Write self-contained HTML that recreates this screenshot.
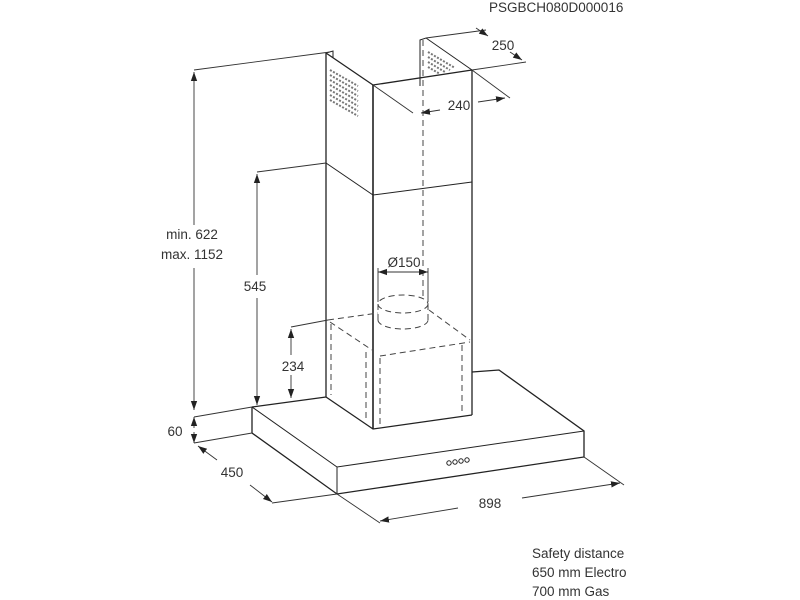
<!DOCTYPE html>
<html><head><meta charset="utf-8"><style>
html,body{margin:0;padding:0;background:#fff;}
svg{display:block;}
text{font-family:"Liberation Sans",Arial,sans-serif;fill:#333;}
</style></head><body>
<svg width="800" height="600" viewBox="0 0 800 600" xmlns="http://www.w3.org/2000/svg">
<defs>
<marker id="a" viewBox="0 0 10 10" refX="10" refY="5" markerWidth="9" markerHeight="9" orient="auto-start-reverse" markerUnits="userSpaceOnUse"><path d="M0,1.5 L10,5 L0,8.5 Z" fill="#222"/></marker>
</defs>
<text x="489" y="12" font-size="13.5">PSGBCH080D000016</text>

<g stroke="#222" stroke-width="1" fill="none">
<!-- upper chimney -->
<line x1="326" y1="53" x2="326" y2="397" stroke-width="1.3"/>
<line x1="373" y1="85" x2="373" y2="429" stroke-width="1.6"/>
<line x1="472" y1="70" x2="472" y2="415" stroke-width="1.3"/>
<polyline points="326,53 373,85 472,70" stroke-width="1.3"/>
<polyline points="326,66 326,53 333,51 333,58"/>
<polyline points="420,86 420,40 426,38 472,70"/>
<!-- vents -->
<g stroke="#777" stroke-width="2" stroke-dasharray="2,1.5">
<line x1="330" y1="70" x2="358" y2="86"/><line x1="330" y1="75" x2="358" y2="91"/><line x1="330" y1="80" x2="358" y2="96"/><line x1="330" y1="85" x2="358" y2="101"/><line x1="330" y1="90" x2="358" y2="106"/><line x1="330" y1="95" x2="358" y2="111"/><line x1="330" y1="100" x2="358" y2="116"/>
<line x1="428" y1="52" x2="455" y2="68"/><line x1="428" y1="57" x2="450" y2="70"/><line x1="428" y1="62" x2="445" y2="72"/><line x1="428" y1="67" x2="440" y2="74"/>
</g>
<!-- lower chimney top edge -->
<polyline points="326,163 373,195 472,182"/>
<!-- hood -->
<polyline points="252,407 252,433 337,494 584,457 584,431 499,370 472,372" stroke-width="1.3"/>
<polyline points="252,407 326,397" stroke-width="1.3"/>
<polyline points="252,407 337,467 584,431" />
<line x1="337" y1="467" x2="337" y2="494"/>
<polyline points="326,397 373,429 472,415" stroke-width="1.3"/>
<!-- buttons -->
<g stroke-width="1"><circle cx="449" cy="463" r="2.2"/><circle cx="455" cy="462" r="2.2"/><circle cx="461" cy="461" r="2.2"/><circle cx="467" cy="460" r="2.2"/></g>

<!-- dashed hidden -->
<g stroke="#444" stroke-dasharray="6,4">
<line x1="423" y1="40" x2="423" y2="296"/>
<ellipse cx="403" cy="304" rx="25" ry="9"/>
<path d="M378,320 A25,9 0 0 0 428,320"/>
<line x1="378" y1="304" x2="378" y2="320"/>
<line x1="428" y1="304" x2="428" y2="320"/>
<line x1="328" y1="320" x2="378" y2="313"/>
<line x1="429" y1="310" x2="470" y2="340"/>
<line x1="330" y1="322" x2="372" y2="350"/>
<line x1="380" y1="356" x2="470" y2="342"/>
<line x1="331" y1="324" x2="331" y2="395"/>
<line x1="366" y1="352" x2="366" y2="422"/>
<line x1="380" y1="358" x2="380" y2="425"/>
<line x1="462" y1="345" x2="462" y2="412"/>
</g>

<!-- dimension lines -->
<g stroke="#333" stroke-width="0.9">
<line x1="194" y1="70" x2="330" y2="52"/>
<line x1="194" y1="225" x2="194" y2="72" marker-end="url(#a)"/>
<line x1="194" y1="268" x2="194" y2="410" marker-end="url(#a)"/>
<line x1="194" y1="417" x2="252" y2="407"/>
<line x1="194" y1="443" x2="252" y2="433"/>
<line x1="194" y1="428" x2="194" y2="417" marker-end="url(#a)"/>
<line x1="194" y1="432" x2="194" y2="443" marker-end="url(#a)"/>

<line x1="257" y1="172" x2="326" y2="163"/>
<line x1="257" y1="275" x2="257" y2="174" marker-end="url(#a)"/>
<line x1="257" y1="298" x2="257" y2="405" marker-end="url(#a)"/>

<line x1="291" y1="327" x2="328" y2="320"/>
<line x1="291" y1="355" x2="291" y2="329" marker-end="url(#a)"/>
<line x1="291" y1="375" x2="291" y2="398" marker-end="url(#a)"/>

<line x1="217" y1="460" x2="198" y2="446" marker-end="url(#a)"/>
<line x1="250" y1="485" x2="272" y2="502" marker-end="url(#a)"/>
<line x1="272" y1="503" x2="337" y2="494"/>

<line x1="337" y1="494" x2="380" y2="523"/>
<line x1="584" y1="457" x2="624" y2="485"/>
<line x1="458" y1="508" x2="380" y2="521" marker-end="url(#a)"/>
<line x1="522" y1="498" x2="620" y2="483" marker-end="url(#a)"/>

<line x1="373" y1="85" x2="413" y2="113"/>
<line x1="472" y1="70" x2="510" y2="98"/>
<line x1="440" y1="110" x2="421" y2="113" marker-end="url(#a)"/>
<line x1="478" y1="102" x2="505" y2="98" marker-end="url(#a)"/>

<line x1="426" y1="38" x2="486" y2="30"/>
<line x1="472" y1="70" x2="526" y2="62"/>
<line x1="476" y1="28" x2="488" y2="36" marker-end="url(#a)"/>
<line x1="510" y1="52" x2="522" y2="60" marker-end="url(#a)"/>

<line x1="378" y1="272" x2="428" y2="272" marker-start="url(#a)" marker-end="url(#a)"/>
<line x1="378" y1="268" x2="378" y2="302"/>
<line x1="428" y1="268" x2="428" y2="302"/>
</g>
</g>

<g font-size="13.5">
<text x="192" y="239" text-anchor="middle">min. 622</text>
<text x="192" y="259" text-anchor="middle">max. 1152</text>
<text x="255" y="291" text-anchor="middle">545</text>
<text x="293" y="371" text-anchor="middle">234</text>
<text x="175" y="436" text-anchor="middle">60</text>
<text x="232" y="477" text-anchor="middle">450</text>
<text x="490" y="508" text-anchor="middle">898</text>
<text x="459" y="110" text-anchor="middle">240</text>
<text x="503" y="50" text-anchor="middle">250</text>
<text x="404" y="267" text-anchor="middle">Ø150</text>
<text x="532" y="558">Safety distance</text>
<text x="532" y="577">650 mm Electro</text>
<text x="532" y="596">700 mm Gas</text>
</g>
</svg>
</body></html>
